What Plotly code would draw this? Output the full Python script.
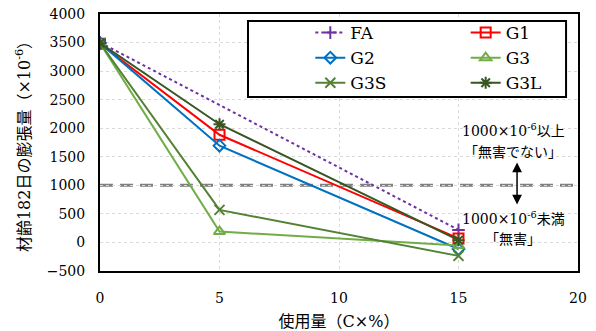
import plotly.graph_objects as go

usage = [0, 5, 15]
fa_x = [0, 15]
fa_y = [3500, 220]
g1_y = [3480, 1885, 70]
g2_y = [3490, 1695, -115]
g3_y = [3490, 190, -55]
g3s_y = [3490, 570, -235]
g3l_y = [3490, 2070, 40]
threshold = 1000

FONT = "DejaVu Serif, Noto Sans CJK JP"

fig = go.Figure()

styles = [
    ("FA", fa_x, fa_y, "#7030A0", "dot", "cross-thin-open", 9, "legend"),
    ("G1", usage, g1_y, "#FF0000", "solid", "square-open", 10, "legend2"),
    ("G2", usage, g2_y, "#0070C0", "solid", "diamond-open", 9, "legend"),
    ("G3", usage, g3_y, "#70AD47", "solid", "triangle-up-open", 10, "legend2"),
    ("G3S", usage, g3s_y, "#548235", "solid", "x-thin-open", 10, "legend"),
    ("G3L", usage, g3l_y, "#375623", "solid", "asterisk-open", 10, "legend2"),
]
for name, xs, ys, col, dash, sym, size, lg in styles:
    fig.add_trace(go.Scatter(
        x=xs, y=ys, name=name, mode="lines+markers", legend=lg,
        line=dict(color=col, width=2, dash=dash),
        marker=dict(symbol=sym, size=size, color=col, line=dict(color=col, width=2)),
    ))

fig.add_shape(type="line", xref="paper", x0=0, x1=1, yref="y", y0=threshold, y1=threshold,
              line=dict(color="#808080", width=3, dash="13px,7px"), layer="below")
fig.add_shape(type="rect", xref="paper", yref="paper", x0=0.3096, x1=0.975, y0=0.677, y1=0.973,
              line=dict(color="black", width=2), fillcolor="white", layer="above")

ann_x = 17.3
AF = dict(family=FONT, size=14, color="black")
fig.add_annotation(x=ann_x, y=1971, xref="x", yref="y", showarrow=False,
                   text="1000×10<sup>-6</sup>以上", font=AF)
fig.add_annotation(x=ann_x, y=1587, xref="x", yref="y", showarrow=False,
                   text="「無害でない」", font=AF)
fig.add_annotation(x=ann_x, y=432, xref="x", yref="y", showarrow=False,
                   text="1000×10<sup>-6</sup>未満", font=AF)
fig.add_annotation(x=ann_x, y=65, xref="x", yref="y", showarrow=False,
                   text="「無害」", font=AF)
fig.add_annotation(x=17.45, y=1400, xref="x", yref="y", axref="x", ayref="y",
                   ax=17.45, ay=640, text="", showarrow=True, arrowside="end+start",
                   arrowhead=2, arrowsize=1.3, arrowwidth=1.5, arrowcolor="black")

legend_common = dict(
    orientation="v", yanchor="top", xanchor="left",
    bgcolor="rgba(0,0,0,0)", borderwidth=0,
    font=dict(family=FONT, size=17, color="black"), tracegroupgap=0,
)

fig.update_layout(
    width=596, height=331, autosize=False,
    margin=dict(l=100, r=18, t=14, b=60, autoexpand=False),
    paper_bgcolor="white", plot_bgcolor="white",
    font=dict(family=FONT, size=14, color="black"),
    showlegend=True,
    legend=dict(x=0.44, y=0.996, **legend_common),
    legend2=dict(x=0.765, y=0.996, **legend_common),
    xaxis=dict(
        range=[0, 20], dtick=5, tick0=0, showgrid=True, automargin=False,
        gridcolor="#D9D9D9", griddash="dot", gridwidth=1,
        showline=True, linecolor="black", linewidth=2, mirror=True,
        zeroline=False, ticks="", ticklen=0, ticklabelstandoff=13,
        tickfont=dict(family=FONT, size=14),
        title=dict(text="使用量（C×%）", font=dict(family=FONT, size=16), standoff=11),
    ),
    yaxis=dict(
        range=[-500, 4000], dtick=500, tick0=0, showgrid=True, automargin=False,
        gridcolor="#D9D9D9", griddash="dot", gridwidth=1,
        showline=True, linecolor="black", linewidth=2, mirror=True,
        zeroline=False, ticks="", ticklen=0, ticklabelstandoff=10,
        tickfont=dict(family=FONT, size=14),
        title=dict(text="材齢182日の膨張量（×10<sup>-6</sup>）", font=dict(family=FONT, size=16), standoff=12),
    ),
)

fig.write_html("out.html", config={"displayModeBar": False},
               post_script="document.body.style.margin='0';document.body.style.padding='0';")
